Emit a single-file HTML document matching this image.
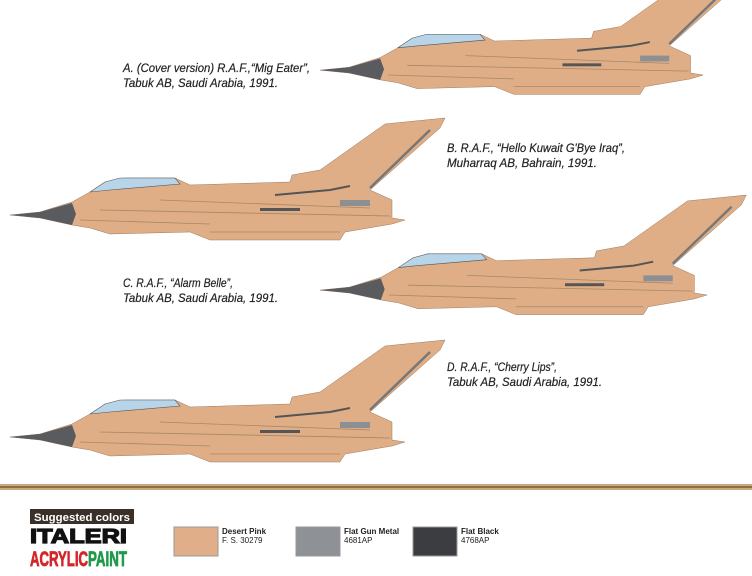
<!DOCTYPE html>
<html><head><meta charset="utf-8"><style>
html,body{margin:0;padding:0;background:#fff;}
svg{display:block;}
.t{font-family:"Liberation Sans",sans-serif;font-style:italic;font-size:12px;fill:#222;stroke:#222;stroke-width:0.2;}
</style></head><body>
<svg width="752" height="576" viewBox="0 0 752 576">
<defs>
<g id="pl">
<path d="M0,95 L30,92 L62,82 L80,72 L95,64 L115,58 L165,58 L180,65 L280,62 L282,55 L310,50 L375,4 L435,-2 L430,8 L360,70 L382,80 L382,98 L395,100 L382,104 L335,112 L330,120 L200,120 L180,112 L100,114 L80,108 L62,105 L30,98 Z" fill="#dfae86" stroke="#9a7a60" stroke-width="0.5"/>
<path d="M0,95 L30,92 L62,83 L66,94 L62,105 L30,98 Z" fill="#5a5b5f"/>
<path d="M80,72 L95,62 L110,58 L165,58 L170,64 L100,70 Z" fill="#b8d4e8" stroke="#555" stroke-width="0.6"/>
<path d="M265,75 L320,70 L340,66" stroke="#555" stroke-width="2" fill="none"/>
<path d="M420,10 L360,68" stroke="#777" stroke-width="2.5" fill="none"/>
<path d="M90,90 L380,96 M150,80 L360,88 M200,112 L330,112 M70,100 L200,104" stroke="#a88868" stroke-width="0.8" fill="none"/>
<rect x="330" y="80" width="30" height="6" fill="#8c8f94"/>
<rect x="250" y="88" width="40" height="3" fill="#555"/>
</g>
</defs>
<use href="#pl" transform="translate(320,-22) scale(0.97)"/>
<use href="#pl" transform="translate(10,120)"/>
<use href="#pl" transform="translate(320,197) scale(0.98)"/>
<use href="#pl" transform="translate(10,342)"/>
<text class="t" x="123" y="72" textLength="187" lengthAdjust="spacingAndGlyphs">A. (Cover version) R.A.F.,“Mig Eater”,</text>
<text class="t" x="123" y="87" textLength="155" lengthAdjust="spacingAndGlyphs">Tabuk AB, Saudi Arabia, 1991.</text>
<text class="t" x="447" y="152" textLength="178" lengthAdjust="spacingAndGlyphs">B. R.A.F., “Hello Kuwait G'Bye Iraq”,</text>
<text class="t" x="447" y="167" textLength="150" lengthAdjust="spacingAndGlyphs">Muharraq AB, Bahrain, 1991.</text>
<text class="t" x="123" y="287" textLength="110" lengthAdjust="spacingAndGlyphs">C. R.A.F., “Alarm Belle”,</text>
<text class="t" x="123" y="302" textLength="155" lengthAdjust="spacingAndGlyphs">Tabuk AB, Saudi Arabia, 1991.</text>
<text class="t" x="447" y="371" textLength="110" lengthAdjust="spacingAndGlyphs">D. R.A.F., “Cherry Lips”,</text>
<text class="t" x="447" y="386" textLength="155" lengthAdjust="spacingAndGlyphs">Tabuk AB, Saudi Arabia, 1991.</text>
<rect x="0" y="484" width="752" height="6" fill="#c8ab7a"/>
<rect x="0" y="486" width="752" height="2" fill="#8c7048"/>
<rect x="30" y="509" width="104" height="15" fill="#3a3028"/>
<text x="34" y="521" font-family="Liberation Sans,sans-serif" font-weight="bold" font-size="11" fill="#fff" textLength="96" lengthAdjust="spacingAndGlyphs">Suggested colors</text>
<text x="30" y="543" font-family="Liberation Sans,sans-serif" font-weight="bold" font-size="20" fill="#111" stroke="#111" stroke-width="1.2" textLength="97" lengthAdjust="spacingAndGlyphs">ITALERI</text>
<text x="30" y="566" font-family="Liberation Sans,sans-serif" font-weight="bold" font-size="21" fill="#d3262a" stroke="#d3262a" stroke-width="0.8" textLength="58" lengthAdjust="spacingAndGlyphs">ACRYLIC</text>
<text x="88" y="566" font-family="Liberation Sans,sans-serif" font-weight="bold" font-size="21" fill="#1e9a4a" stroke="#1e9a4a" stroke-width="0.8" textLength="39" lengthAdjust="spacingAndGlyphs">PAINT</text>
<rect x="174" y="527" width="44" height="29" fill="#e0ae88" stroke="#999"/>
<rect x="296" y="527" width="44" height="29" fill="#8e9196" stroke="#999"/>
<rect x="413" y="527" width="44" height="29" fill="#3c3d41" stroke="#999"/>
<g font-family="Liberation Sans,sans-serif" font-size="8" fill="#222">
<text x="222" y="534" font-weight="bold">Desert Pink</text><text x="222" y="543">F. S. 30279</text>
<text x="344" y="534" font-weight="bold">Flat Gun Metal</text><text x="344" y="543">4681AP</text>
<text x="461" y="534" font-weight="bold">Flat Black</text><text x="461" y="543">4768AP</text>
</g>
</svg>
</body></html>
